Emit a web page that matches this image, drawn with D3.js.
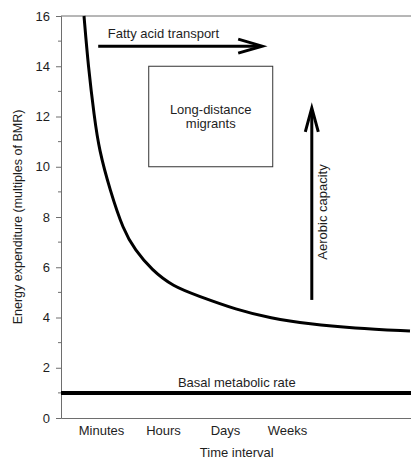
<!DOCTYPE html>
<html>
<head>
<meta charset="utf-8">
<script src="https://cdn.jsdelivr.net/npm/d3@7"></script>
<style>
  body { margin: 0; background: #fff; }
  text { font-family: "Liberation Sans", Arial, sans-serif; fill: #1e1e1e; }
</style>
</head>
<body>
<div id="chart"></div>
<script>
// time categories on the x axis (1 = Minutes ... 4 = Weeks)
const categories = ["Minutes", "Hours", "Days", "Weeks"];
const yTicks = [0, 2, 4, 6, 8, 10, 12, 14, 16];

// sustained energy expenditure curve
const curveX = [0.726, 0.795, 0.892, 0.97, 1.145, 1.36, 1.548, 1.818, 2.166, 2.544, 3.194, 3.726, 4.371, 5.065, 5.984];
const curveY = [16.0, 13.98, 11.98, 10.67, 9.07, 7.48, 6.69, 5.89, 5.23, 4.88, 4.30, 3.98, 3.74, 3.58, 3.46];

const bmr = 1;

const params = {
    width: 411, height: 460,
    margin: { top: 16, right: 0, bottom: 42, left: 61 }
};
const w = params.width - params.margin.left - params.margin.right;
const h = params.height - params.margin.top - params.margin.bottom;

const svg = d3.select("#chart")
    .append("svg")
    .attr("width", params.width)
    .attr("height", params.height);

const g = svg.append("g")
    .attr("transform", `translate(${params.margin.left}, ${params.margin.top})`);

let x = d3.scaleLinear().domain([0.355, 6.0]).range([0, w]);
let y = d3.scaleLinear().domain([0, 16]).range([h, 0]);

// frame: top border
g.append("line")
    .attr("x1", 0).attr("x2", w)
    .attr("y1", y(16)).attr("y2", y(16))
    .attr("stroke", "#6e6e6e").attr("stroke-width", 1);

// y axis
const yAxis = g.append("g")
    .call(d3.axisLeft(y).tickValues(yTicks).tickSize(5).tickPadding(6));
yAxis.selectAll("text").attr("font-size", 13).attr("font-family", "Liberation Sans, Arial, sans-serif");
yAxis.select(".domain").attr("stroke", "#6e6e6e");
yAxis.selectAll(".tick line").attr("stroke", "#6e6e6e");

// minor ticks
g.selectAll(".minor")
    .data(d3.range(1, 16, 2))
    .enter().append("line")
    .attr("class", "minor")
    .attr("x1", -3).attr("x2", 0)
    .attr("y1", d => y(d)).attr("y2", d => y(d))
    .attr("stroke", "#6e6e6e");

// x axis
const xAxis = g.append("g")
    .attr("transform", `translate(0,${h})`)
    .call(d3.axisBottom(x).tickValues([1, 2, 3, 4]).tickSize(0).tickPadding(8)
        .tickFormat(d => categories[d - 1]));
xAxis.selectAll("text").attr("font-size", 13).attr("font-family", "Liberation Sans, Arial, sans-serif");
xAxis.select(".domain").attr("stroke", "#6e6e6e");

// axis titles
g.append("text")
    .attr("x", x(3.19)).attr("y", h + 39)
    .attr("text-anchor", "middle")
    .attr("font-size", 13)
    .text("Time interval");

svg.append("text")
    .attr("transform", `translate(22, ${params.margin.top + y(8)}) rotate(-90)`)
    .attr("text-anchor", "middle")
    .attr("font-size", 12.5)
    .text("Energy expenditure (multiples of BMR)");

// basal metabolic rate
g.append("line")
    .attr("x1", 0).attr("x2", w)
    .attr("y1", y(bmr)).attr("y2", y(bmr))
    .attr("stroke", "#000").attr("stroke-width", 4);

g.append("text")
    .attr("x", x(3.19)).attr("y", y(bmr) - 6)
    .attr("text-anchor", "middle")
    .attr("font-size", 13)
    .text("Basal metabolic rate");

// curve
const pts = curveX.map((d, i) => [d, curveY[i]]);
g.append("path")
    .datum(pts)
    .attr("fill", "none")
    .attr("stroke", "#000")
    .attr("stroke-width", 3)
    .attr("d", d3.line().x(d => x(d[0])).y(d => y(d[1])).curve(d3.curveBasis));

// fatty acid transport arrow
const fa = { x0: 0.955, x1: 3.6, y: 14.8 };
g.append("line")
    .attr("x1", x(fa.x0)).attr("x2", x(fa.x1) - 2)
    .attr("y1", y(fa.y)).attr("y2", y(fa.y))
    .attr("stroke", "#000").attr("stroke-width", 3);
g.append("path")
    .attr("d", `M${x(fa.x1) - 24},${y(fa.y) - 7} L${x(fa.x1)},${y(fa.y)} L${x(fa.x1) - 24},${y(fa.y) + 7}`)
    .attr("fill", "none").attr("stroke", "#000").attr("stroke-width", 3)
    .attr("stroke-linejoin", "miter");
g.append("text")
    .attr("x", x(1.11)).attr("y", y(fa.y) - 8)
    .attr("font-size", 13)
    .text("Fatty acid transport");

// long-distance migrants box
const box = { x0: 1.77, x1: 3.77, y0: 10, y1: 14 };
g.append("rect")
    .attr("x", x(box.x0)).attr("y", y(box.y1))
    .attr("width", x(box.x1) - x(box.x0))
    .attr("height", y(box.y0) - y(box.y1))
    .attr("fill", "none").attr("stroke", "#333").attr("stroke-width", 1);
const bx = (x(box.x0) + x(box.x1)) / 2;
g.append("text").attr("x", bx).attr("y", y(12.1)).attr("text-anchor", "middle")
    .attr("font-size", 13).text("Long-distance");
g.append("text").attr("x", bx).attr("y", y(11.55)).attr("text-anchor", "middle")
    .attr("font-size", 13).text("migrants");

// aerobic capacity arrow
const ac = { x: 4.4, y0: 4.7, y1: 12.34 };
g.append("line")
    .attr("x1", x(ac.x)).attr("x2", x(ac.x))
    .attr("y1", y(ac.y0)).attr("y2", y(ac.y1) + 2)
    .attr("stroke", "#000").attr("stroke-width", 3);
g.append("path")
    .attr("d", `M${x(ac.x) - 6.5},${y(ac.y1) + 24} L${x(ac.x)},${y(ac.y1)} L${x(ac.x) + 6.5},${y(ac.y1) + 24}`)
    .attr("fill", "none").attr("stroke", "#000").attr("stroke-width", 3);
g.append("text")
    .attr("transform", `translate(${x(ac.x) + 15}, ${y(8.2)}) rotate(-90)`)
    .attr("text-anchor", "middle")
    .attr("font-size", 13)
    .text("Aerobic capacity");
</script>
</body>
</html>
